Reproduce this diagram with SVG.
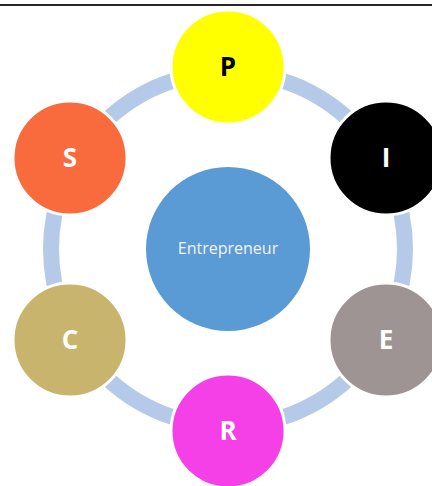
<svg xmlns="http://www.w3.org/2000/svg" width="432" height="486" viewBox="0 0 432 486">
  <style>
    .node { stroke: #FFFFFF; stroke-width: 3; }
    .letter { font-family: "Open Sans", "Liberation Sans", sans-serif; font-weight: bold; font-size: 26px; text-anchor: middle; }
    .hub-label { font-family: "Open Sans", "Liberation Sans", sans-serif; font-size: 16px; fill: #F2F2F2; text-anchor: middle; }
  </style>
  <rect x="0" y="0" width="432" height="486" fill="#FFFFFF"/>
  <!-- top rule -->
  <line x1="0" y1="5" x2="432" y2="5" stroke="#262626" stroke-width="2"/>

  <!-- cycle ring linking the outer nodes -->
  <g id="connectors">
    <circle cx="228" cy="249" r="177" fill="none" stroke="#B4CAE8" stroke-width="16"/>
  </g>

  <g id="hub">
    <circle cx="228" cy="249" r="82" fill="#5B9BD5"/>
    <text class="hub-label" x="228" y="254">Entrepreneur</text>
  </g>

  <g id="node-P">
    <circle class="node" cx="228" cy="67" r="57" fill="#FFFF00"/>
    <text class="letter" x="228" y="76" fill="#000000">P</text>
  </g>
  <g id="node-I">
    <circle class="node" cx="386" cy="158" r="57" fill="#000000"/>
    <text class="letter" x="386" y="167" fill="#FFFFFF">I</text>
  </g>
  <g id="node-E">
    <circle class="node" cx="386" cy="340" r="57" fill="#9E9494"/>
    <text class="letter" x="386" y="349" fill="#FFFFFF">E</text>
  </g>
  <g id="node-R">
    <circle class="node" cx="228" cy="431" r="57" fill="#F440E6"/>
    <text class="letter" x="228" y="440" fill="#FFFFFF">R</text>
  </g>
  <g id="node-C">
    <circle class="node" cx="70" cy="340" r="57" fill="#C8B46D"/>
    <text class="letter" x="70" y="349" fill="#FFFFFF">C</text>
  </g>
  <g id="node-S">
    <circle class="node" cx="70" cy="158" r="57" fill="#F96B3C"/>
    <text class="letter" x="70" y="167" fill="#FFFFFF">S</text>
  </g>
</svg>
